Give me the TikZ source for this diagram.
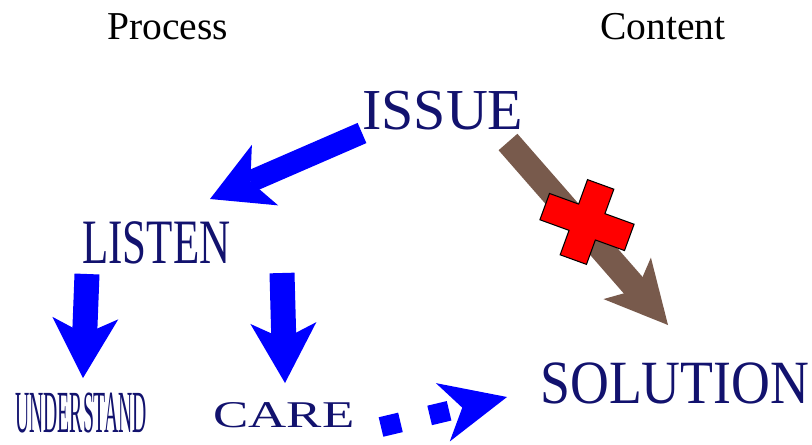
\documentclass[tikz,border=0pt]{standalone}
\usepackage{fontspec}
\setmainfont{Liberation Serif}
\usetikzlibrary{arrows.meta}
\definecolor{wordnavy}{RGB}{18,18,110}
\definecolor{wrongbrown}{RGB}{120,90,76}

\begin{document}
\begin{tikzpicture}[x=0.02cm,y=-0.02cm,
    every node/.style={inner sep=0pt,anchor=base west},
    word/.style={text=wordnavy},
    blockarrow/.style={draw=blue,line width=0.5cm,-{Stealth[length=1.2cm,width=1.32cm,inset=0.32cm,line width=0pt]}}]
	\useasboundingbox (0,0) rectangle (812,444);
	% headings
	\node (process) at (107,39) {\fontsize{22.5}{27}\selectfont Process};
	\node (content) at (600,39) {\fontsize{22.5}{27}\selectfont Content};
	% words
	\node[word] (issue) at (362,129) {\fontsize{33}{40}\selectfont ISSUE};
	\node[word,xscale=0.68] (listen) at (82,263) {\fontsize{36}{40}\selectfont LISTEN};
	\node[word,xscale=0.33] (understand) at (15,432) {\fontsize{34}{40}\selectfont UNDERSTAND};
	\node[word,xscale=1.4] (care) at (213,427) {\fontsize{21.5}{26}\selectfont CARE};
	\node[word,xscale=0.875] (solution) at (540,403) {\fontsize{35}{40}\selectfont SOLUTION};
	% arrow ends
	\coordinate (issueL) at (362,133);
	\coordinate (listenT) at (210,199);
	\coordinate (issueR) at (508,142);
	\coordinate (solutionT) at (668,325);
	\coordinate (careR) at (381,427);
	\coordinate (solutionL) at (507,397);
	\foreach \n/\x/\y/\u/\v in {understand/87/274/83/378, care/282/273/285/383}{
		\coordinate (\n S) at (\x,\y);
		\coordinate (\n T) at (\u,\v);
		\draw[blockarrow] (\n S) -- (\n T);
	}
	\draw[blockarrow,line width=0.44cm] (issueL) -- (listenT);
	\draw[blockarrow,draw=wrongbrown,-{Stealth[length=1.24cm,width=1.26cm,inset=0.3cm,line width=0pt]}] (issueR) -- (solutionT);
	\draw[blockarrow,line width=0.4cm,dash pattern=on 0.4cm off 0.6cm,-{Stealth[length=1.32cm,width=1.2cm,inset=0.4cm,line width=0pt]}] (careR) -- (solutionL);
	% red cross
	\begin{scope}[shift={(587,222)},rotate=-20]
		\draw[fill=red,line width=0.6pt,line join=miter] (-14,-40) -- (14,-40) -- (14,-14) -- (45,-14) -- (45,14) -- (14,14) -- (14,40) -- (-14,40) -- (-14,14) -- (-45,14) -- (-45,-14) -- (-14,-14) -- cycle;
	\end{scope}
\end{tikzpicture}
\end{document}
